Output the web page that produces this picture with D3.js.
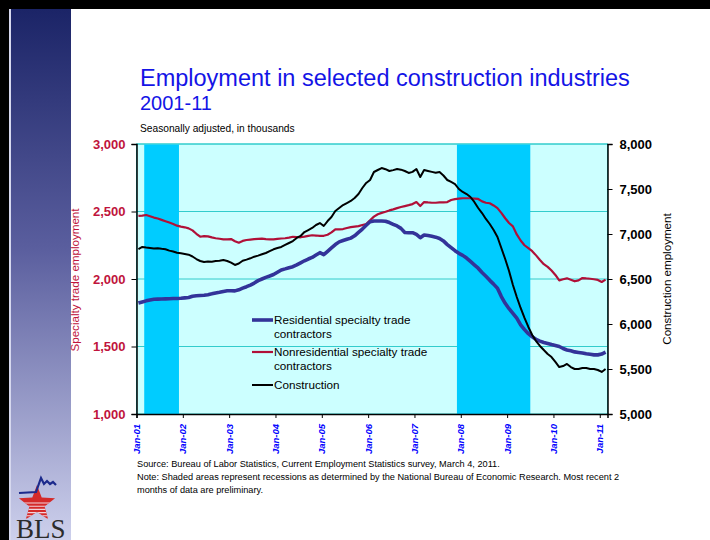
<!DOCTYPE html>
<html>
<head>
<meta charset="utf-8">
<script src="https://cdn.jsdelivr.net/npm/d3@7"></script>
<style>
body { margin: 0; background: #fff; }
svg { display: block; font-family: "Liberation Sans", Arial, sans-serif; }
</style>
</head>
<body>
<script>
var width = 710, height = 540;

// monthly data, Jan 2001 - Feb 2011 (thousands)
var residential = [
  1822, 1830, 1838, 1845, 1850, 1851, 1852, 1853, 1854, 1855, 1856, 1857,
  1860, 1863, 1872, 1876, 1878, 1880, 1884, 1890, 1897, 1902, 1908, 1913,
  1913, 1912, 1920, 1932, 1943, 1955, 1970, 1988, 2000, 2012, 2022, 2033,
  2050, 2067, 2075, 2084, 2091, 2105, 2120, 2135, 2148, 2160, 2178, 2195,
  2180, 2205, 2230, 2255, 2275, 2285, 2294, 2303, 2320, 2345, 2370, 2398,
  2424, 2430, 2430, 2430, 2428, 2418, 2405, 2393, 2375, 2345, 2343, 2343,
  2330, 2306, 2326, 2322, 2316, 2310, 2300, 2282, 2255, 2232, 2210, 2190,
  2175, 2155, 2130, 2105, 2080, 2048, 2020, 1990, 1962, 1932, 1870, 1820,
  1780, 1746, 1710, 1660, 1625, 1595, 1572, 1552, 1540, 1530, 1523, 1515,
  1508, 1500, 1485, 1474, 1468, 1460, 1456, 1452, 1446, 1442, 1438, 1438,
  1444, 1458
];
var nonresidential = [
  2467, 2470, 2474, 2465, 2455, 2448, 2438, 2428, 2418, 2408, 2395, 2388,
  2383, 2375, 2360, 2335, 2313, 2318, 2316, 2308, 2302, 2298, 2294, 2294,
  2296, 2280, 2269, 2282, 2289, 2292, 2295, 2297, 2299, 2296, 2294, 2294,
  2297, 2300, 2302, 2307, 2313, 2311, 2309, 2314, 2320, 2324, 2322, 2319,
  2320, 2328, 2345, 2368, 2368, 2370, 2378, 2384, 2388, 2392, 2400, 2407,
  2435, 2462, 2480, 2490, 2498, 2508, 2516, 2525, 2533, 2540, 2547, 2555,
  2570, 2541, 2570, 2567, 2565, 2565, 2567, 2568, 2570, 2585, 2592, 2595,
  2598, 2598, 2598, 2596, 2593, 2575, 2565, 2561, 2545, 2525, 2490, 2450,
  2415, 2390, 2330, 2285, 2250, 2228, 2206, 2175, 2141, 2110, 2090, 2063,
  2030, 1990, 1998, 2005, 1995, 1983, 1990, 2007, 2004, 2002, 1998, 1993,
  1978, 1995
];
var construction = [
  6833, 6856, 6850, 6845, 6840, 6842, 6835, 6830, 6815, 6805, 6792, 6785,
  6778, 6770, 6750, 6722, 6700, 6689, 6695, 6692, 6700, 6703, 6711, 6700,
  6681, 6656, 6672, 6703, 6715, 6730, 6748, 6760, 6775, 6789, 6810, 6830,
  6844, 6856, 6878, 6900, 6922, 6956, 6978, 7022, 7044, 7067, 7100, 7122,
  7089, 7144, 7189, 7256, 7289, 7322, 7344, 7367, 7400, 7444, 7511, 7567,
  7600, 7689, 7711, 7733, 7720, 7700, 7710, 7722, 7715, 7700, 7678, 7690,
  7722, 7633, 7711, 7700, 7690, 7680, 7689, 7650, 7600, 7578, 7555, 7500,
  7467, 7444, 7411, 7356, 7289, 7233, 7167, 7111, 7044, 6967, 6844, 6722,
  6589, 6433, 6300, 6178, 6067, 5967, 5878, 5811, 5756, 5711, 5667, 5633,
  5578, 5522, 5533, 5556, 5522, 5500, 5500, 5511, 5511, 5500, 5500, 5489,
  5467, 5500
];
var xTickLabels = ["Jan-01", "Jan-02", "Jan-03", "Jan-04", "Jan-05", "Jan-06",
  "Jan-07", "Jan-08", "Jan-09", "Jan-10", "Jan-11"];
// recessions as [first month index, month index after last]
var recessions = [[2, 11], [83, 102]];
var leftTicks = [1000, 1500, 2000, 2500, 3000];
var rightTicks = [5000, 5500, 6000, 6500, 7000, 7500, 8000];
var seriesNames = [["Residential specialty trade", "contractors"],
  ["Nonresidential specialty trade", "contractors"], ["Construction"]];

var plot = {left: 136.5, right: 607.5, top: 144, bottom: 414};

var x = d3.scaleLinear().domain([0, residential.length]).range([plot.left, plot.right]);
var yL = d3.scaleLinear().domain([1000, 3000]).range([plot.bottom, plot.top]);
var yR = d3.scaleLinear().domain([5000, 8000]).range([plot.bottom, plot.top]);

var svg = d3.select("body").append("svg")
  .attr("width", width)
  .attr("height", height);

// slide decoration
var defs = svg.append("defs");
var grad = defs.append("linearGradient").attr("id", "side")
  .attr("x1", 0).attr("y1", 0).attr("x2", 0).attr("y2", 1);
grad.append("stop").attr("offset", "0%").attr("stop-color", "#1b2467");
grad.append("stop").attr("offset", "45%").attr("stop-color", "#5a5e9e");
grad.append("stop").attr("offset", "100%").attr("stop-color", "#cdd0ec");

svg.append("rect").attr("x", 0).attr("y", 0).attr("width", width).attr("height", 9).attr("fill", "#000");
svg.append("rect").attr("x", 0).attr("y", 0).attr("width", 9).attr("height", height).attr("fill", "#000");
svg.append("rect").attr("x", 9).attr("y", 9).attr("width", 2).attr("height", height).attr("fill", "#d6d8ee");
svg.append("rect").attr("x", 11).attr("y", 9).attr("width", 60).attr("height", height - 9).attr("fill", "url(#side)");

// BLS logo
var logo = svg.append("g");
function starPoints(cx, cy, R, r) {
  var pts = [];
  for (var i = 0; i < 10; i++) {
    var a = -Math.PI / 2 + i * Math.PI / 5;
    var rr = i % 2 ? r : R;
    pts.push([cx + rr * Math.cos(a), cy + rr * Math.sin(a)]);
  }
  return pts;
}
var star = starPoints(37, 504, 19, 8);
defs.append("clipPath").attr("id", "starclip")
  .append("polygon").attr("points", star.map(function (p) { return p.join(","); }).join(" "));
logo.append("polygon").attr("points", star.map(function (p) { return p.join(","); }).join(" "))
  .attr("fill", "#d42a2a");
logo.append("g").attr("clip-path", "url(#starclip)")
  .selectAll("line").data(d3.range(503, 524, 3.2)).enter().append("line")
  .attr("x1", 15).attr("x2", 60).attr("y1", function (d) { return d; }).attr("y2", function (d) { return d; })
  .attr("stroke", "#f2d4dc").attr("stroke-width", 1.1);
logo.append("polyline")
  .attr("points", "19,493 36,492 41,478 44,484 47,481 50,484 53,482 56,485")
  .attr("fill", "none").attr("stroke", "#1c2a8c").attr("stroke-width", 2.2);
logo.append("text").attr("x", 16).attr("y", 538)
  .attr("font-family", "'Liberation Serif', 'Times New Roman', serif")
  .attr("font-size", 27).attr("fill", "#2b2b2b").text("BLS");

// titles
svg.append("text").attr("x", 140).attr("y", 86)
  .attr("font-size", 23.5).attr("fill", "#1414e6")
  .text("Employment in selected construction industries");
svg.append("text").attr("x", 140).attr("y", 110)
  .attr("font-size", 20).attr("fill", "#1414e6").text("2001-11");
svg.append("text").attr("x", 140).attr("y", 132)
  .attr("font-size", 10.2).attr("fill", "#000").text("Seasonally adjusted, in thousands");

// plot area
svg.append("rect")
  .attr("x", plot.left).attr("y", plot.top)
  .attr("width", plot.right - plot.left).attr("height", plot.bottom - plot.top)
  .attr("fill", "#ccffff").attr("stroke", "#33cccc");

svg.append("g").selectAll("line").data(leftTicks.slice(1)).enter().append("line")
  .attr("x1", plot.left).attr("x2", plot.right)
  .attr("y1", function (d) { return yL(d); }).attr("y2", function (d) { return yL(d); })
  .attr("stroke", "#33cccc").attr("stroke-width", 1);

svg.append("g").selectAll("rect").data(recessions).enter().append("rect")
  .attr("x", function (d) { return x(d[0]); })
  .attr("width", function (d) { return x(d[1]) - x(d[0]); })
  .attr("y", plot.top + 0.5).attr("height", plot.bottom - plot.top - 0.5)
  .attr("fill", "#00ccff");

// lines
var lineL = d3.line().x(function (d, i) { return x(i + 0.5); }).y(function (d) { return yL(d); });
var lineR = d3.line().x(function (d, i) { return x(i + 0.5); }).y(function (d) { return yR(d); });

svg.append("path").datum(nonresidential).attr("d", lineL)
  .attr("fill", "none").attr("stroke", "#b01038").attr("stroke-width", 2.2).attr("stroke-linejoin", "round");
svg.append("path").datum(residential).attr("d", lineL)
  .attr("fill", "none").attr("stroke", "#333399").attr("stroke-width", 3.6).attr("stroke-linejoin", "round");
svg.append("path").datum(construction).attr("d", lineR)
  .attr("fill", "none").attr("stroke", "#000").attr("stroke-width", 2).attr("stroke-linejoin", "round");

// axes
var axL = svg.append("g").attr("transform", "translate(" + plot.left + ",0)")
  .call(d3.axisLeft(yL).tickValues(leftTicks).tickSize(5).tickPadding(6).tickFormat(d3.format(",")));
axL.selectAll("text").attr("fill", "#c0143c").attr("font-size", 13).attr("font-weight", "bold")
  .attr("font-family", "'Liberation Sans', Arial, sans-serif");

var axR = svg.append("g").attr("transform", "translate(" + plot.right + ",0)")
  .call(d3.axisRight(yR).tickValues(rightTicks).tickSize(5).tickPadding(7).tickFormat(d3.format(",")));
axR.selectAll("text").attr("fill", "#000").attr("font-size", 13).attr("font-weight", "bold")
  .attr("font-family", "'Liberation Sans', Arial, sans-serif");

var axB = svg.append("g").attr("transform", "translate(0," + plot.bottom + ")")
  .call(d3.axisBottom(x).tickValues(d3.range(0, 121, 12)).tickSize(4)
    .tickFormat(function (d, i) { return xTickLabels[i]; }));
axB.selectAll("text")
  .attr("x", 0).attr("y", 0).attr("dy", null)
  .attr("transform", "translate(3,10) rotate(-90)")
  .style("text-anchor", "end")
  .attr("fill", "#0000ff").attr("font-size", 9.5).attr("font-weight", "bold").attr("font-style", "italic")
  .attr("font-family", "'Liberation Sans', Arial, sans-serif");
[axL, axR, axB].forEach(function (a) {
  a.select(".domain").attr("stroke", "#000").attr("stroke-width", 1.5);
  a.selectAll(".tick line").attr("stroke", "#000");
});

// axis titles
svg.append("text").attr("transform", "translate(79,280) rotate(-90)")
  .attr("text-anchor", "middle").attr("font-size", 11.6).attr("fill", "#c0143c")
  .text("Specialty trade employment");
svg.append("text").attr("transform", "translate(671,279) rotate(-90)")
  .attr("text-anchor", "middle").attr("font-size", 11.6).attr("fill", "#000")
  .text("Construction employment");

// legend
var legendColors = ["#333399", "#b01038", "#000"];
var legendWidths = [3.6, 2.2, 2];
var legendY = [320, 352, 385];
var legend = svg.append("g");
seriesNames.forEach(function (lines, k) {
  legend.append("line").attr("x1", 252).attr("x2", 273)
    .attr("y1", legendY[k]).attr("y2", legendY[k])
    .attr("stroke", legendColors[k]).attr("stroke-width", legendWidths[k]);
  lines.forEach(function (t, j) {
    legend.append("text").attr("x", 274).attr("y", legendY[k] + 4 + j * 13.5)
      .attr("font-size", 11.7).attr("fill", "#000").text(t);
  });
});

// notes
var notes = ["Source:  Bureau of Labor Statistics, Current Employment Statistics survey, March 4, 2011.",
  "Note: Shaded areas represent recessions as determined by the National Bureau of Economic Research.  Most recent 2",
  "months of data are preliminary."];
svg.append("g").selectAll("text").data(notes).enter().append("text")
  .attr("x", 137).attr("y", function (d, i) { return 467 + i * 13; })
  .attr("font-size", 9.2).attr("fill", "#000")
  .text(function (d) { return d; });
</script>
</body>
</html>
